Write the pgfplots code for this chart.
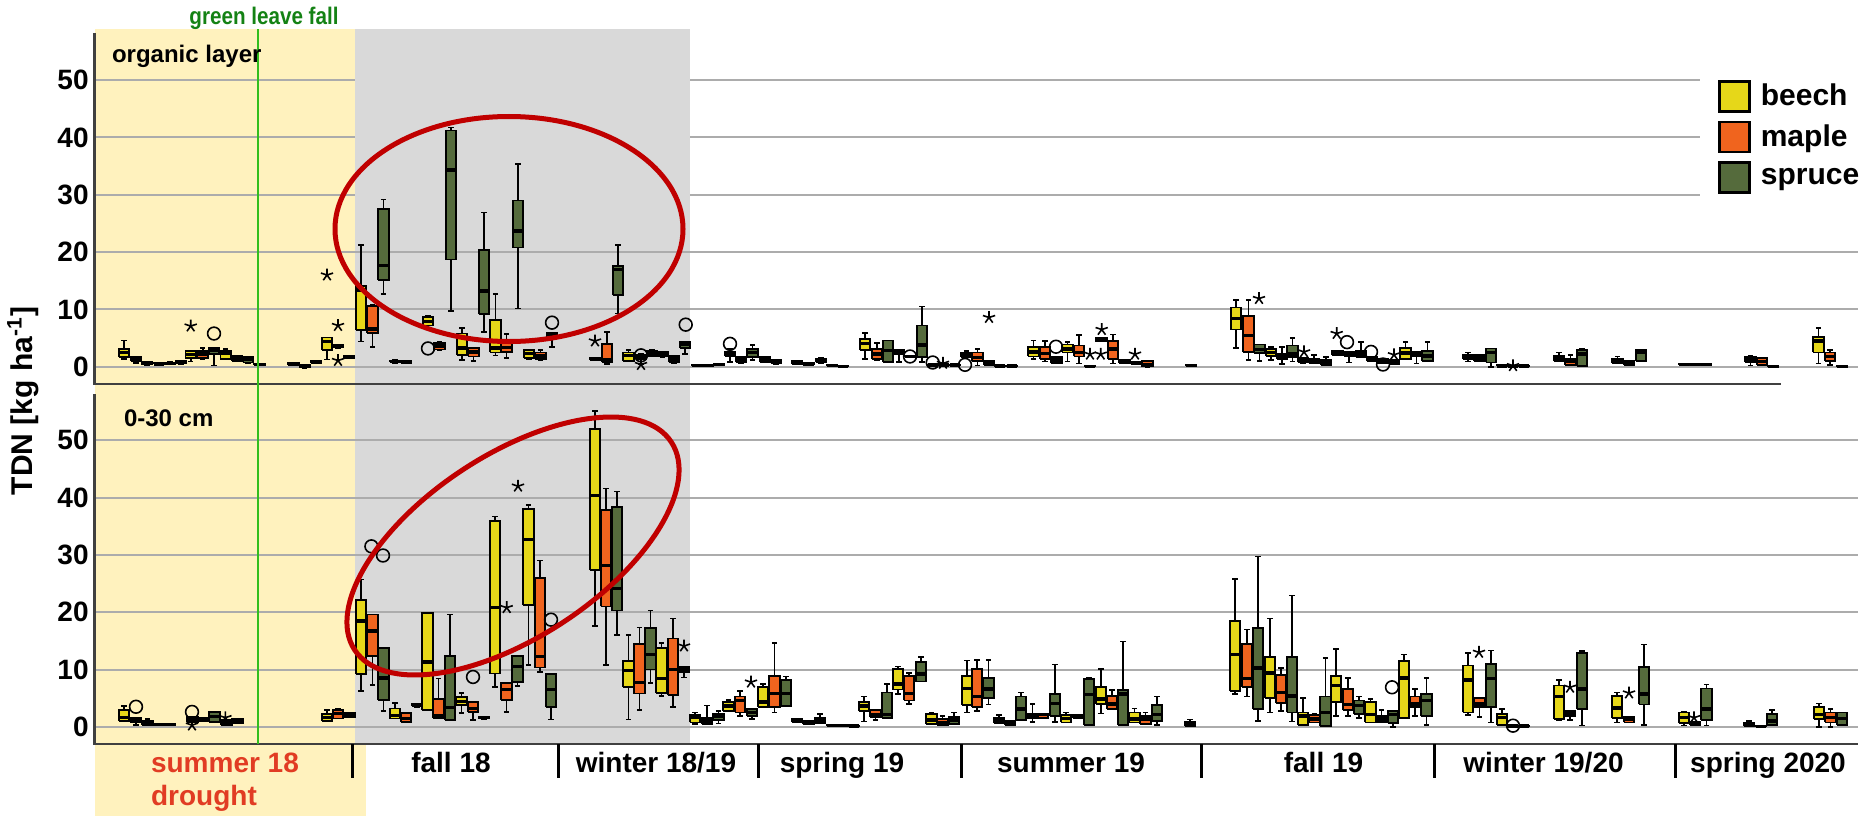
\documentclass[border=0pt]{standalone}
\usepackage{fontspec}
\setmainfont{Liberation Sans}
\usepackage{pgfplots}
\pgfplotsset{compat=1.18}
\definecolor{beech}{RGB}{230,215,25}
\definecolor{maple}{RGB}{240,100,30}
\definecolor{spruce}{RGB}{85,107,60}
\definecolor{bgyellow}{RGB}{255,242,190}
\definecolor{bggray}{RGB}{217,217,217}
\definecolor{ellred}{RGB}{192,0,0}
\definecolor{leafgreen}{RGB}{50,190,30}
\definecolor{leaftext}{RGB}{20,130,20}
\definecolor{droughtred}{RGB}{225,60,35}
\definecolor{gridgray}{RGB}{172,172,172}
\definecolor{axgray}{RGB}{64,64,64}
\newcommand{\lab}{\bfseries\fontsize{14}{16}\selectfont}
% box: colour, position, lower whisker, lower quartile, median, upper quartile, upper whisker
\newcommand{\bxp}[7]{%
  \pgfmathsetmacro\bxL{#2-5.25}\pgfmathsetmacro\bxR{#2+5.25}%
  \pgfmathsetmacro\bcL{#2-2.6}\pgfmathsetmacro\bcR{#2+2.6}%
  \addplot[forget plot, black, line width=0.8pt, unbounded coords=jump]
    coordinates {(\bcL,#3) (\bcR,#3) (#2,nan) (#2,#3) (#2,#7) (#2,nan) (\bcL,#7) (\bcR,#7)};
  \addplot[forget plot, draw=black, line width=0.9pt, fill=#1]
    coordinates {(\bxL,#4) (\bxR,#4) (\bxR,#6) (\bxL,#6) (\bxL,#4)};
  \addplot[forget plot, black, line width=1.7pt] coordinates {(\bxL,#5) (\bxR,#5)};}
\pgfplotsset{panel/.style={scale only axis, width=881.7pt, xmin=94.6, xmax=1858,
  xtick=\empty, ytick={0,10,20,30,40,50}, axis line style={draw=none},
  major tick length=0pt, clip=false, anchor=south west,
  yticklabel style={font=\bfseries\fontsize{14}{14}\selectfont, inner sep=0pt, xshift=-2.8pt},
  /pgf/number format/assume math mode=true}}
\begin{document}
\begin{tikzpicture}
\useasboundingbox (0,0) rectangle (934pt,408pt);
\fill[bgyellow] (47.3pt,36pt) rectangle (177.5pt,393.35pt);
\fill[bgyellow] (47.3pt,0pt) rectangle (183pt,36pt);
\fill[bggray] (177.5pt,36pt) rectangle (345pt,393.35pt);
% ---------------- organic layer ----------------
\begin{axis}[panel, at={(47.3pt,216pt)}, height=177.35pt, ymin=-3, ymax=58.85,
  legend style={at={(0.9172,0.8683)}, anchor=north west, draw=none, fill=none,
    font=\bfseries\fontsize{15}{15}\selectfont, row sep=4pt, nodes={inner sep=1pt},
    /tikz/every odd column/.append style={column sep=4pt}},
  legend cell align=left,
  legend image code/.code={\draw[#1, line width=1.2pt] (0pt,-7.5pt) rectangle (15pt,7.5pt);}]
\draw[gridgray, line width=1pt] (axis cs:94.6,0) -- (axis cs:1858,0);
\draw[gridgray, line width=1pt] (axis cs:94.6,10) -- (axis cs:1858,10);
\draw[gridgray, line width=1pt] (axis cs:94.6,20) -- (axis cs:1858,20);
\draw[gridgray, line width=1pt] (axis cs:94.6,30) -- (axis cs:355,30) (axis cs:690,30) -- (axis cs:1700,30);
\draw[gridgray, line width=1pt] (axis cs:94.6,40) -- (axis cs:355,40) (axis cs:690,40) -- (axis cs:1700,40);
\draw[gridgray, line width=1pt] (axis cs:94.6,50) -- (axis cs:355,50) (axis cs:690,50) -- (axis cs:1700,50);
\draw[axgray, line width=1.2pt] (axis cs:94.6,58.2) -- (axis cs:94.6,-3) -- (axis cs:1781,-3);
\addlegendimage{fill=beech, draw=black}
\addlegendimage{fill=maple, draw=black}
\addlegendimage{fill=spruce, draw=black}
\legend{beech, maple, spruce}
\bxp{beech}{124}{1.35}{1.65}{2.5}{3.1}{4.6}
\bxp{maple}{136}{0.65}{0.95}{1.3}{1.65}{1.8}
\bxp{spruce}{147}{0.35}{0.4}{0.55}{0.8}{0.9}
\bxp{beech}{159}{0.4}{0.45}{0.5}{0.6}{0.65}
\bxp{maple}{170}{0.4}{0.5}{0.6}{0.7}{0.8}
\bxp{spruce}{181}{0.5}{0.6}{0.75}{0.95}{1.0}
\bxp{beech}{190.7}{0.95}{1.5}{2.1}{2.7}{2.8}
\bxp{maple}{202.7}{1.4}{1.6}{2.2}{2.8}{3.3}
\bxp{spruce}{214}{0.2}{2.2}{2.8}{3.3}{3.3}
\bxp{beech}{225.7}{1.3}{1.35}{2.35}{2.8}{3.1}
\bxp{maple}{237}{0.9}{1.05}{1.5}{1.9}{2.0}
\bxp{spruce}{248}{0.6}{0.75}{1.3}{1.75}{1.8}
\bxp{spruce}{259.5}{0.3}{0.35}{0.45}{0.55}{0.6}
\bxp{beech}{293.5}{0.2}{0.25}{0.4}{0.6}{0.65}
\bxp{maple}{304.7}{-0.2}{0.0}{0.1}{0.25}{0.3}
\bxp{spruce}{316}{0.6}{0.65}{0.8}{0.95}{0.95}
\bxp{beech}{327}{1.3}{2.9}{4.4}{5.1}{5.1}
\bxp{maple}{338}{3.3}{3.35}{3.6}{3.9}{3.9}
\bxp{spruce}{349}{1.5}{1.55}{1.7}{1.9}{1.95}
\bxp{beech}{361}{4.4}{6.4}{13.4}{14.1}{21.2}
\bxp{maple}{372.6}{3.4}{5.9}{6.6}{10.6}{10.8}
\bxp{spruce}{383.5}{12.7}{15.1}{17.7}{27.5}{29.2}
\bxp{beech}{395}{0.7}{0.8}{0.95}{1.1}{1.2}
\bxp{maple}{406}{0.6}{0.7}{0.85}{1.0}{1.0}
\bxp{beech}{428}{7.2}{7.2}{7.9}{8.7}{8.9}
\bxp{maple}{439.5}{2.9}{3.0}{3.6}{4.2}{4.3}
\bxp{spruce}{451}{9.75}{18.7}{34.3}{41.2}{41.7}
\bxp{beech}{462}{1.2}{2.1}{3.3}{5.8}{6.8}
\bxp{maple}{473.5}{1.05}{1.8}{2.6}{3.3}{3.3}
\bxp{spruce}{484}{6.1}{9.2}{13.2}{20.4}{26.9}
\bxp{beech}{495.5}{2.0}{2.5}{3.3}{8.1}{12.7}
\bxp{maple}{506.5}{1.5}{2.6}{3.4}{4.1}{5.7}
\bxp{spruce}{518}{10.2}{20.8}{23.7}{29}{35.4}
\bxp{beech}{529}{1.35}{1.5}{2.35}{2.9}{3.0}
\bxp{maple}{540.5}{1.2}{1.35}{1.9}{2.5}{2.9}
\bxp{spruce}{552}{3.5}{5.2}{5.7}{5.9}{5.9}
\bxp{beech}{595.5}{1.1}{1.2}{1.35}{1.5}{1.5}
\bxp{maple}{607}{0.5}{0.9}{1.3}{4.0}{6.1}
\bxp{spruce}{618}{9.3}{12.5}{17.0}{17.6}{21.2}
\bxp{beech}{628.5}{0.9}{0.95}{1.95}{2.5}{2.9}
\bxp{maple}{641}{0.5}{1.4}{1.8}{2.1}{2.3}
\bxp{spruce}{652}{1.8}{1.9}{2.3}{2.8}{2.9}
\bxp{beech}{662.5}{1.7}{1.8}{2.2}{2.6}{2.7}
\bxp{maple}{674}{0.7}{0.9}{1.35}{1.9}{2.0}
\bxp{spruce}{685}{2.2}{3.3}{4.0}{4.4}{4.4}
\bxp{beech}{697}{0.1}{0.15}{0.2}{0.25}{0.3}
\bxp{maple}{708}{0.1}{0.15}{0.2}{0.25}{0.3}
\bxp{spruce}{719}{0.2}{0.25}{0.35}{0.45}{0.5}
\bxp{beech}{730}{0.8}{1.9}{2.35}{2.6}{3.1}
\bxp{maple}{741}{0.6}{0.75}{1.2}{1.65}{1.7}
\bxp{spruce}{752.5}{1.2}{1.65}{2.5}{3.1}{3.8}
\bxp{beech}{765}{0.8}{0.9}{1.2}{1.65}{1.7}
\bxp{maple}{776}{0.5}{0.6}{0.9}{1.2}{1.2}
\bxp{beech}{797}{0.4}{0.5}{0.8}{1.05}{1.1}
\bxp{maple}{808.5}{0.4}{0.45}{0.5}{0.6}{0.65}
\bxp{spruce}{821}{0.7}{0.75}{1.0}{1.35}{1.65}
\bxp{beech}{832}{0.1}{0.15}{0.2}{0.3}{0.3}
\bxp{maple}{843}{0.0}{0.05}{0.1}{0.2}{0.2}
\bxp{beech}{865}{1.35}{2.9}{4.1}{4.9}{5.9}
\bxp{maple}{877}{1.2}{1.35}{2.2}{3.1}{4.1}
\bxp{spruce}{888}{0.8}{0.9}{2.8}{4.6}{4.6}
\bxp{beech}{899}{0.8}{2.2}{2.5}{2.9}{2.9}
\bxp{maple}{910}{1.6}{1.7}{1.8}{1.9}{2.0}
\bxp{spruce}{922}{0.8}{1.65}{3.8}{7.2}{10.5}
\bxp{beech}{933}{0.2}{0.25}{0.3}{0.4}{0.4}
\bxp{maple}{944}{0.2}{0.25}{0.3}{0.35}{0.4}
\bxp{spruce}{955}{0.2}{0.25}{0.3}{0.35}{0.4}
\bxp{beech}{966.5}{1.65}{1.65}{1.9}{2.35}{2.8}
\bxp{maple}{977.5}{0.2}{1.05}{1.65}{2.5}{3.1}
\bxp{spruce}{989}{0.35}{0.35}{0.7}{1.05}{1.05}
\bxp{beech}{1000}{0.05}{0.1}{0.15}{0.2}{0.25}
\bxp{maple}{1012}{0.05}{0.1}{0.15}{0.2}{0.25}
\bxp{beech}{1033.5}{1.35}{1.8}{2.6}{3.4}{4.6}
\bxp{maple}{1045}{0.9}{1.35}{2.35}{3.5}{4.5}
\bxp{spruce}{1056.5}{0.6}{0.6}{1.2}{1.65}{1.65}
\bxp{beech}{1067.5}{0.95}{2.5}{3.1}{3.9}{4.3}
\bxp{maple}{1079}{0.6}{1.8}{2.5}{3.7}{5.5}
\bxp{spruce}{1090}{0.0}{0.05}{0.1}{0.2}{0.25}
\bxp{beech}{1101.5}{4.4}{4.4}{4.7}{5.0}{5.0}
\bxp{maple}{1113}{0.6}{1.35}{3.1}{4.5}{5.6}
\bxp{spruce}{1124.5}{0.6}{0.6}{0.9}{1.2}{1.2}
\bxp{beech}{1136}{0.4}{0.45}{0.6}{0.8}{0.8}
\bxp{maple}{1147.5}{0.0}{0.05}{0.4}{1.0}{1.0}
\bxp{spruce}{1191}{0.1}{0.15}{0.2}{0.3}{0.3}
\bxp{beech}{1236}{3.3}{6.5}{8.4}{10.35}{11.6}
\bxp{maple}{1248.5}{1.2}{2.6}{5.5}{8.8}{11.6}
\bxp{spruce}{1259.5}{1.05}{2.35}{3.0}{3.9}{3.9}
\bxp{beech}{1271}{1.2}{1.9}{2.5}{3.1}{3.5}
\bxp{maple}{1282}{0.5}{1.35}{1.7}{2.2}{3.4}
\bxp{spruce}{1292.5}{0.9}{1.65}{2.2}{3.7}{5.0}
\bxp{beech}{1303}{0.6}{0.75}{1.1}{1.5}{1.5}
\bxp{maple}{1314}{0.6}{0.6}{1.0}{1.35}{2.1}
\bxp{spruce}{1326}{0.35}{0.35}{0.8}{1.2}{1.75}
\bxp{beech}{1337.5}{2.1}{2.1}{2.5}{2.8}{2.8}
\bxp{maple}{1349}{0.75}{1.95}{2.3}{2.6}{2.6}
\bxp{spruce}{1361}{1.65}{1.65}{2.2}{2.8}{4.3}
\bxp{beech}{1372}{0.95}{0.95}{1.3}{1.65}{1.65}
\bxp{maple}{1382.5}{0.6}{0.6}{1.0}{1.35}{1.35}
\bxp{spruce}{1394}{0.5}{0.5}{0.8}{1.2}{1.2}
\bxp{beech}{1405.5}{1.35}{1.35}{2.4}{3.3}{4.3}
\bxp{maple}{1416.5}{0.6}{1.9}{2.2}{2.6}{2.6}
\bxp{spruce}{1427.5}{1.05}{1.05}{1.9}{2.8}{4.3}
\bxp{beech}{1468}{0.95}{1.35}{1.75}{2.1}{2.5}
\bxp{maple}{1479.5}{0.95}{0.95}{1.5}{2.1}{2.1}
\bxp{spruce}{1491}{0}{0.75}{2.5}{3.2}{3.2}
\bxp{beech}{1502}{0.05}{0.1}{0.15}{0.25}{0.3}
\bxp{maple}{1513}{0.0}{0.05}{0.1}{0.2}{0.2}
\bxp{spruce}{1524}{0.05}{0.1}{0.15}{0.2}{0.25}
\bxp{beech}{1559}{0.95}{0.95}{1.5}{1.9}{2.5}
\bxp{maple}{1570.5}{0.35}{0.35}{0.9}{1.35}{2.05}
\bxp{spruce}{1582}{0.2}{0.2}{2.2}{2.9}{3.2}
\bxp{beech}{1617.5}{0.6}{0.6}{1.0}{1.35}{1.8}
\bxp{maple}{1629}{0.35}{0.35}{0.7}{1.05}{1.05}
\bxp{spruce}{1641}{1.05}{1.05}{2.5}{2.9}{2.9}
\bxp{beech}{1684}{0.3}{0.35}{0.45}{0.55}{0.6}
\bxp{maple}{1695}{0.2}{0.25}{0.35}{0.45}{0.5}
\bxp{spruce}{1706}{0.2}{0.25}{0.35}{0.45}{0.5}
\bxp{beech}{1750.5}{0.2}{0.75}{1.2}{1.75}{1.9}
\bxp{maple}{1762}{0.35}{0.35}{0.95}{1.5}{1.5}
\bxp{spruce}{1773}{-0.1}{-0.05}{0.0}{0.1}{0.1}
\bxp{beech}{1818.5}{0.6}{2.5}{4.5}{5.2}{6.8}
\bxp{maple}{1830}{0.35}{1.05}{1.8}{2.5}{2.9}
\bxp{spruce}{1842}{-0.1}{-0.05}{0}{0.1}{0.1}
\addplot[forget plot, only marks, mark=o, mark size=3.2pt, mark options={line width=0.8pt, draw=black}]
 coordinates {(214,5.8) (428,3.2) (552,7.7) (641,2.0) (685.7,7.35) (730,4.0) (910,1.8) (932.7,0.75)
 (965,0.35) (1056,3.5) (1347,4.3) (1371,2.6) (1383,0.4)};
\addplot[forget plot, only marks, mark=star, mark size=3.2pt, mark options={line width=0.8pt, draw=black}]
 coordinates {(190.7,7.1) (327,16) (338,7.2) (338,1.1) (595,4.5) (641,0.4) (943,0.6) (989,8.6)
 (1090,2.2) (1100.7,2.2) (1101.7,6.5) (1135,2.2) (1259,11.9) (1304,2.6) (1336.7,5.8) (1394,2.1) (1513,0.2)};
\end{axis}
% ---------------- 0-30 cm ----------------
\begin{axis}[panel, at={(47.3pt,36pt)}, height=180pt, ymin=-3, ymax=59.83]
\draw[gridgray, line width=1pt] (axis cs:94.6,0) -- (axis cs:1858,0);
\draw[gridgray, line width=1pt] (axis cs:94.6,10) -- (axis cs:1858,10);
\draw[gridgray, line width=1pt] (axis cs:94.6,20) -- (axis cs:1858,20);
\draw[gridgray, line width=1pt] (axis cs:94.6,30) -- (axis cs:1858,30);
\draw[gridgray, line width=1pt] (axis cs:94.6,40) -- (axis cs:1858,40);
\draw[gridgray, line width=1pt] (axis cs:94.6,50) -- (axis cs:1858,50);
\draw[axgray, line width=1.2pt] (axis cs:94.6,58) -- (axis cs:94.6,-3) -- (axis cs:1858,-3);
\bxp{beech}{124}{1.05}{1.05}{1.6}{3.0}{3.6}
\bxp{maple}{136}{0.3}{0.75}{1.15}{1.6}{1.6}
\bxp{spruce}{147.5}{0.3}{0.3}{0.6}{1.05}{1.35}
\bxp{beech}{159}{0.3}{0.35}{0.45}{0.55}{0.6}
\bxp{maple}{170}{0.3}{0.35}{0.45}{0.55}{0.6}
\bxp{beech}{192.5}{0.9}{0.9}{1.35}{1.75}{1.75}
\bxp{maple}{203.5}{1.0}{1.05}{1.3}{1.6}{1.6}
\bxp{spruce}{214.5}{0.9}{0.9}{1.75}{2.6}{2.6}
\bxp{beech}{226.5}{0.3}{0.3}{0.7}{1.15}{1.15}
\bxp{maple}{237.5}{0.6}{0.6}{1.05}{1.45}{1.45}
\bxp{beech}{327}{1.05}{1.05}{1.6}{2.2}{2.9}
\bxp{maple}{338}{1.45}{1.45}{2.3}{2.9}{3.2}
\bxp{spruce}{349.5}{1.75}{1.75}{2.1}{2.45}{2.45}
\bxp{beech}{361}{6.3}{9.2}{18.5}{22.1}{25.7}
\bxp{maple}{372.5}{7.3}{12.3}{16.7}{19.6}{19.6}
\bxp{spruce}{383.5}{2.8}{4.65}{8.5}{13.8}{13.8}
\bxp{beech}{395}{1.45}{1.45}{2.0}{3.2}{4.2}
\bxp{maple}{406}{0.9}{0.9}{1.45}{2.45}{2.45}
\bxp{spruce}{417}{3.5}{3.6}{3.8}{4.0}{4.05}
\bxp{beech}{427.5}{2.9}{2.9}{11.3}{19.9}{19.9}
\bxp{maple}{438.5}{1.6}{1.6}{2.0}{4.9}{8.4}
\bxp{spruce}{450}{1.15}{1.15}{3.4}{12.3}{19.6}
\bxp{beech}{461.5}{2.4}{3.8}{4.4}{5.2}{5.9}
\bxp{maple}{473}{1.15}{2.6}{3.2}{4.4}{4.4}
\bxp{spruce}{484}{1.4}{1.45}{1.6}{1.75}{1.8}
\bxp{beech}{495}{6.9}{9.3}{20.8}{35.9}{36.7}
\bxp{maple}{506.5}{2.6}{4.65}{6.5}{7.6}{7.6}
\bxp{spruce}{517.5}{7.1}{7.85}{10.5}{12.3}{12.3}
\bxp{beech}{528.5}{10.75}{21.2}{32.7}{38.0}{38.7}
\bxp{maple}{540}{9.6}{10.35}{12.3}{26.0}{29.0}
\bxp{spruce}{551}{1.3}{3.4}{6.5}{9.2}{9.2}
\bxp{beech}{595}{17.6}{27.3}{40.4}{52.0}{55.1}
\bxp{maple}{606}{10.75}{21.0}{28.2}{37.8}{41.6}
\bxp{spruce}{617}{16.0}{20.3}{24.1}{38.3}{41.1}
\bxp{beech}{628.5}{1.3}{7.0}{9.8}{11.5}{16.0}
\bxp{maple}{639.5}{2.9}{5.8}{7.7}{14.4}{17.3}
\bxp{spruce}{650.5}{7.6}{10.0}{12.6}{17.3}{20.3}
\bxp{beech}{661.5}{5.35}{5.9}{8.4}{13.7}{14.65}
\bxp{maple}{673}{3.5}{5.5}{10.0}{15.4}{18.9}
\bxp{spruce}{684}{8.6}{9.6}{10.0}{10.5}{10.5}
\bxp{beech}{695}{0.5}{0.76}{1.6}{2.1}{2.5}
\bxp{maple}{707}{0.5}{0.5}{1.05}{1.5}{3.7}
\bxp{spruce}{718.5}{0.6}{1.2}{1.75}{2.2}{2.8}
\bxp{beech}{728.5}{2.8}{2.8}{3.6}{4.3}{4.7}
\bxp{maple}{740}{1.9}{2.5}{4.6}{5.3}{6.3}
\bxp{spruce}{752}{1.35}{1.9}{2.5}{3.1}{3.1}
\bxp{beech}{763}{3.5}{3.5}{4.3}{6.9}{7.5}
\bxp{maple}{774.5}{2.5}{3.4}{5.85}{8.9}{14.6}
\bxp{spruce}{786}{3.7}{3.7}{5.85}{8.2}{8.8}
\bxp{beech}{797}{0.9}{0.9}{1.1}{1.3}{1.3}
\bxp{maple}{808.5}{0.5}{0.5}{0.8}{1.05}{1.05}
\bxp{spruce}{820}{0.65}{0.65}{1.0}{1.5}{2.2}
\bxp{beech}{832}{0.1}{0.15}{0.2}{0.25}{0.3}
\bxp{maple}{843}{0.1}{0.15}{0.2}{0.25}{0.3}
\bxp{spruce}{854}{0.05}{0.1}{0.15}{0.2}{0.25}
\bxp{beech}{864}{0.9}{2.7}{3.6}{4.3}{5.3}
\bxp{maple}{875.5}{1.15}{1.75}{2.1}{3.0}{3.0}
\bxp{spruce}{887}{1.6}{1.6}{2.2}{6.0}{7.5}
\bxp{beech}{898}{5.7}{6.5}{7.5}{10.1}{10.5}
\bxp{maple}{909}{4.0}{4.6}{5.85}{8.8}{9.4}
\bxp{spruce}{921}{7.9}{7.9}{9.2}{11.3}{12.2}
\bxp{beech}{931.5}{0.5}{0.5}{1.2}{2.2}{2.5}
\bxp{maple}{942.5}{0.35}{0.35}{0.8}{1.35}{1.9}
\bxp{spruce}{954}{0.5}{0.5}{1.2}{1.75}{2.5}
\bxp{beech}{967}{2.5}{3.8}{6.7}{8.8}{11.6}
\bxp{maple}{977}{2.8}{3.4}{5.3}{10.1}{11.7}
\bxp{spruce}{988.5}{3.9}{5.0}{6.6}{8.5}{11.7}
\bxp{beech}{999}{0.6}{0.6}{1.2}{1.5}{2.1}
\bxp{maple}{1010}{0.35}{0.35}{0.7}{1.05}{1.05}
\bxp{spruce}{1021}{1.2}{1.2}{3.1}{5.3}{6.0}
\bxp{beech}{1032.5}{0.8}{1.5}{1.9}{2.3}{4.0}
\bxp{maple}{1043}{1.5}{1.5}{2.1}{2.3}{2.3}
\bxp{spruce}{1055}{0.8}{1.9}{4.1}{5.7}{10.9}
\bxp{beech}{1066}{0.76}{0.76}{1.5}{2.1}{2.5}
\bxp{maple}{1078}{1.6}{1.6}{1.8}{2.0}{2.0}
\bxp{spruce}{1089}{0.35}{0.35}{5.6}{8.4}{8.5}
\bxp{beech}{1101}{2.3}{4.0}{4.85}{6.9}{10.1}
\bxp{maple}{1112}{3.1}{3.1}{4.0}{5.4}{6.4}
\bxp{spruce}{1123}{0.35}{0.35}{5.7}{6.4}{14.9}
\bxp{beech}{1134.5}{0.76}{0.76}{1.35}{2.5}{3.2}
\bxp{maple}{1145.5}{0.5}{0.5}{1.35}{1.9}{2.5}
\bxp{spruce}{1157}{0.35}{1.05}{2.1}{3.8}{5.3}
\bxp{spruce}{1190}{0.2}{0.2}{0.5}{0.9}{1.3}
\bxp{beech}{1235}{5.7}{6.3}{12.6}{18.5}{25.8}
\bxp{maple}{1247}{5.3}{7.0}{8.4}{14.4}{17.0}
\bxp{spruce}{1258}{1.05}{3.1}{10.3}{17.3}{29.7}
\bxp{beech}{1270}{2.5}{5.0}{9.4}{12.2}{18.9}
\bxp{maple}{1281}{2.8}{4.1}{6.0}{9.1}{10.3}
\bxp{spruce}{1292}{0.9}{2.5}{5.4}{12.2}{22.9}
\bxp{beech}{1303}{0.35}{0.35}{1.9}{2.5}{5.0}
\bxp{maple}{1314.5}{0.76}{0.76}{1.35}{2.1}{2.2}
\bxp{spruce}{1325.5}{0.2}{0.2}{2.5}{5.3}{12.0}
\bxp{beech}{1336}{1.9}{4.3}{7.2}{8.9}{13.6}
\bxp{maple}{1348}{1.9}{2.9}{3.9}{6.6}{8.5}
\bxp{spruce}{1359}{1.5}{2.3}{3.7}{4.6}{5.3}
\bxp{beech}{1370.5}{0.76}{0.76}{2.2}{4.3}{4.85}
\bxp{maple}{1381.5}{0.9}{0.9}{1.35}{1.9}{2.9}
\bxp{spruce}{1393}{0.0}{0.6}{2.2}{2.7}{2.7}
\bxp{beech}{1404}{1.6}{1.6}{8.5}{11.5}{12.6}
\bxp{maple}{1415}{1.9}{3.4}{4.0}{5.3}{6.6}
\bxp{spruce}{1426.5}{0.35}{1.9}{4.6}{5.7}{8.5}
\bxp{beech}{1468}{2.1}{2.5}{8.2}{10.7}{12.9}
\bxp{maple}{1479.5}{1.75}{3.5}{4.0}{5.0}{5.0}
\bxp{spruce}{1491}{0.76}{3.5}{8.4}{10.9}{13.3}
\bxp{beech}{1502}{0.35}{0.35}{1.6}{2.3}{3.1}
\bxp{maple}{1513}{0.05}{0.1}{0.15}{0.2}{0.2}
\bxp{spruce}{1524}{0.05}{0.1}{0.15}{0.2}{0.2}
\bxp{beech}{1559}{1.2}{1.35}{5.3}{7.2}{8.2}
\bxp{maple}{1570}{1.2}{1.9}{2.3}{2.8}{2.8}
\bxp{spruce}{1582}{0.2}{3.1}{6.6}{12.9}{13.2}
\bxp{beech}{1617}{0.76}{1.5}{3.3}{5.4}{6.0}
\bxp{maple}{1629}{0.76}{0.76}{1.35}{1.75}{1.75}
\bxp{spruce}{1644}{0.35}{3.9}{5.7}{10.5}{14.4}
\bxp{beech}{1684}{0.2}{0.6}{1.6}{2.5}{2.7}
\bxp{maple}{1695}{0.35}{0.35}{0.6}{0.9}{0.9}
\bxp{spruce}{1706.5}{0.2}{1.2}{3.1}{6.7}{7.4}
\bxp{beech}{1749}{0.2}{0.2}{0.4}{0.6}{1.05}
\bxp{maple}{1761}{0.0}{0.05}{0.1}{0.15}{0.2}
\bxp{spruce}{1772}{0.35}{0.35}{1.05}{2.2}{2.9}
\bxp{beech}{1819}{0.0}{1.35}{2.2}{3.4}{4.1}
\bxp{maple}{1830.5}{0.0}{0.76}{1.6}{2.5}{3.1}
\bxp{spruce}{1842}{0.35}{0.35}{1.5}{2.5}{2.5}
\addplot[forget plot, only marks, mark=o, mark size=3.2pt, mark options={line width=0.8pt, draw=black}]
 coordinates {(136,3.5) (192,2.6) (371.4,31.5) (383,29.9) (473,8.7) (551,18.7) (1392,6.9) (1513,0.2)};
\addplot[forget plot, only marks, mark=star, mark size=3.2pt, mark options={line width=0.8pt, draw=black}]
 coordinates {(192,0.3) (225.4,1.6) (506.7,20.8) (518,42) (684,14.1) (751,7.8) (1479,13.0)
 (1570,6.9) (1629,5.9) (1694,1.6)};
\end{axis}
% ---------------- annotations ----------------
\draw[leafgreen, line width=1.3pt] (129pt,393.35pt) -- (129pt,36pt);
\draw[ellred, line width=2.5pt] (254.5pt,293.5pt) ellipse [x radius=87pt, y radius=56.25pt];
\draw[ellred, line width=2.5pt, rotate around={33.3:(256.5pt,135pt)}] (256.5pt,135pt) ellipse [x radius=94.7pt, y radius=45.65pt];
\node[anchor=base, text=leaftext, font=\bfseries\fontsize{12}{12}\selectfont, xscale=0.86] at (132pt,395.5pt) {green leave fall};
\node[anchor=base west, font=\bfseries\fontsize{12}{12}\selectfont] at (52.5pt,376.65pt) {organic layer};
\node[anchor=base west, font=\bfseries\fontsize{12}{12}\selectfont] at (58.5pt,195pt) {0-30 cm};
\node[anchor=base, rotate=90, font=\bfseries\fontsize{15}{15}\selectfont] at (16pt,207.5pt) {TDN [kg ha\textsuperscript{-1}]};
\foreach \xs in {176.35,279,379.25,480.5,600.9,717,837.85}
  \draw[black, line width=1.5pt] (\xs pt,36pt) -- (\xs pt,19pt);
\node[anchor=base west, font=\lab, text=droughtred] at (72pt,21.65pt) {summer 18};
\node[anchor=base west, font=\lab, text=droughtred] at (72pt,5.5pt) {drought};
\node[anchor=base, font=\lab] at (225.5pt,21.65pt) {fall 18};
\node[anchor=base, font=\lab] at (328pt,21.65pt) {winter 18/19};
\node[anchor=base, font=\lab] at (421pt,21.65pt) {spring 19};
\node[anchor=base, font=\lab] at (535.5pt,21.65pt) {summer 19};
\node[anchor=base, font=\lab] at (661.75pt,21.65pt) {fall 19};
\node[anchor=base, font=\lab] at (771.75pt,21.65pt) {winter 19/20};
\node[anchor=base, font=\lab] at (884pt,21.65pt) {spring 2020};
\end{tikzpicture}
\end{document}
